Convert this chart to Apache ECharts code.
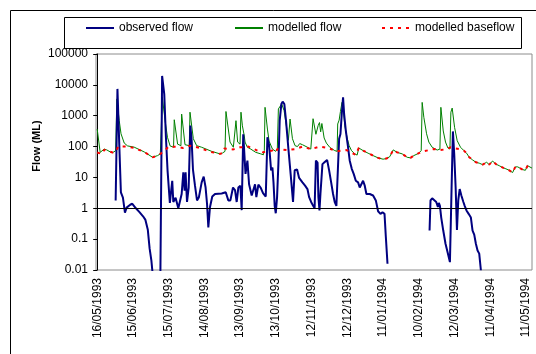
<!DOCTYPE html>
<html>
<head>
<meta charset="utf-8">
<script src="https://cdn.jsdelivr.net/npm/echarts@6/dist/echarts.min.js"></script>
<style>
  html, body { margin: 0; padding: 0; background: #fff; }
  #chart { width: 536px; height: 354px; }
</style>
</head>
<body>
<div id="chart"></div>
<script>
// Days are counted from 16/05/1993 (day 0); flows in ML, log scale.
const tickDays = [0, 30, 60, 90, 120, 150, 180, 210, 240, 270, 300, 330, 360];
const tickLabels = ['16/05/1993', '15/06/1993', '15/07/1993', '14/08/1993', '13/09/1993',
  '13/10/1993', '12/11/1993', '12/12/1993', '11/01/1994', '10/02/1994', '12/03/1994',
  '11/04/1994', '11/05/1994'];
const flowTickLabels = ['0.01', '0.1', '1', '10', '100', '1000', '10000', '100000'];
const seriesNames = ['observed flow', 'modelled flow', 'modelled baseflow'];

// Gauged flow; null marks days with no flow recorded.
const observedFlow = [
  [15.5, 1.8], [17, 7400], [18.8, 57], [19.9, 3.3], [21.6, 2.2], [23.3, 0.72], [24.7, 1.05],
  [25.5, 0.95], [27.7, 1.3], [29.5, 1.4], [32.5, 1.0], [35.5, 0.75], [38.5, 0.55], [40.5, 0.42],
  [42.5, 0.2], [44, 0.05], [45.5, 0.02], [46.8, 0.006], [47.5, null],
  [53, 0.004], [54.5, 19500], [56.3, 5000], [57.7, 200], [59.1, 16], [61, 1.5], [63, 7.8],
  [63.9, 1.6], [65.8, 2.2], [68.1, 1.0], [69.5, 0.96], [70.9, 2.9], [72.3, 14.6], [73.4, 3.7],
  [74.2, 14.6], [75.4, 1.6], [76.8, 4.7], [78.2, 480], [79.3, 155], [80.4, 18], [82.1, 5.4],
  [83.8, 1.8], [85.4, 2.3], [87.7, 6.9], [89.4, 10.6], [91.0, 4.7], [92.2, 1.4], [93.3, 0.24],
  [94.7, 1.1], [96.6, 2.4], [98.9, 2.9], [104.5, 3.0], [107.9, 3.3], [109.0, 3.7], [110.1, 1.8],
  [111.8, 1.8], [114.0, 4.7], [115.7, 3.9], [117.1, 1.6], [118.5, 4.7], [120.2, 5.4],
  [121.3, 0.87], [122.6, 250], [124.5, 13], [126.1, 35], [127.5, 6.0], [129.7, 2.6],
  [131.1, 2.3], [132.5, 6.0], [133.6, 2.3], [135.3, 5.8], [137.3, 4.6], [139.2, 3.1],
  [141.5, 2.4], [142.9, 200], [144.3, 110], [146.0, 17], [147.1, 21], [148.0, 6.9], [149.0, 1.2],
  [149.9, 0.69], [151.0, 2.3], [152.1, 27], [153.2, 690], [154.6, 2400], [155.7, 2860],
  [157.1, 2400], [158.5, 690], [160.5, 85], [162.4, 12.8], [164.4, 1.6], [165.8, 17],
  [167.8, 18], [169.5, 9.6], [172.3, 6.9], [174.5, 5.4], [176.5, 4.2], [177.9, 2.3],
  [179.6, 1.6], [181.3, 1.2], [182.5, 1.0], [183.6, 35], [185.0, 30], [185.7, 2.3],
  [186.6, 0.85], [187.4, 2.9], [189.1, 27], [190.8, 31], [191.9, 27], [193.0, 37], [194.7, 17],
  [196.4, 6.9], [198.0, 2.9], [199.4, 1.6], [200.8, 1.2], [202.2, 1.1], [203.1, 180],
  [204.2, 255], [205.3, 1130], [206.4, 3950], [207.3, 1130], [208.7, 330], [210.6, 95],
  [212.0, 35], [213.7, 19], [215.4, 12.8], [217.1, 7.8], [219.0, 6.9], [220.4, 4.7],
  [221.8, 5.4], [223.2, 7.8], [224.6, 5.4], [226.0, 2.9], [228.8, 2.9], [231.6, 2.6],
  [233.9, 1.8], [235.8, 0.8], [237.8, 0.66], [239.5, 0.74], [241.2, 0.66], [242.3, 0.12],
  [243.7, 0.016], [244.5, null],
  [279.0, 0.19], [279.8, 1.8], [281.2, 2.1], [282.6, 2.0], [284.6, 1.6], [286.0, 1.1],
  [286.8, 1.5], [287.7, 1.2], [288.8, 0.5], [290.5, 0.19], [292.4, 0.071], [294.4, 0.034],
  [296.1, 0.018], [297.5, 4.7], [298.6, 310], [299.7, 58], [300.9, 4.7], [302.0, 0.2],
  [303.1, 1.8], [304.3, 4.2], [305.7, 2.6], [307.4, 1.6], [308.5, 1.2], [310.0, 0.85],
  [311.8, 0.66], [313.7, 0.5], [315.1, 0.19], [316.5, 0.14], [317.9, 0.071], [319.3, 0.043],
  [320.7, 0.034], [322.1, 0.0098]
];

// Simulated total flow.
const modelledFlow = [
  [0, 370], [2.5, 65], [4, 58], [5.9, 83], [8, 78], [11, 67], [13, 64], [15.5, 73],
  [16.5, 3500], [18.5, 690], [20, 260], [22.7, 130], [25.5, 105], [31, 96], [39.5, 67],
  [46.5, 45], [50.7, 51], [53, 58], [54.7, 3950], [57, 690], [59, 200], [61.2, 105],
  [64.1, 95], [64.7, 740], [67.5, 120], [70.3, 107], [70.9, 1130], [73.7, 115], [77.3, 107],
  [77.9, 1300], [80.7, 180], [83.5, 107], [87.7, 95], [96.1, 70], [103.1, 58], [105.0, 61],
  [107.3, 70], [108.1, 1370], [111.5, 140], [114.3, 95], [115.7, 100], [116.5, 690],
  [117.9, 140], [119.9, 120], [120.7, 1300], [121.9, 470], [123.5, 220], [124.1, 140],
  [126.1, 95], [128.9, 83], [133.1, 65], [137.3, 58], [139.5, 54], [140.3, 74], [140.9, 1870],
  [142.9, 370], [144.3, 150], [147.1, 83], [149.9, 70], [151.2, 83], [152.1, 1660],
  [153.2, 1870], [154.9, 2400], [156.9, 1460], [158.8, 470], [160.5, 160], [161.9, 780],
  [163.9, 180], [166.1, 107], [168.1, 100], [170.0, 125], [172.3, 115], [176.5, 95],
  [179.3, 83], [180.1, 95], [181.2, 800], [182.2, 700], [183.6, 250], [185.5, 480],
  [186.6, 600], [187.6, 300], [188.6, 560], [190.5, 190], [192.4, 130], [195.2, 95],
  [199.4, 74], [201.4, 70], [201.9, 540], [203.1, 720], [204.2, 1370], [205.5, 2700],
  [206.4, 1900], [207.9, 470], [209.8, 190], [211.5, 107], [213.5, 74], [216.2, 58],
  [218.2, 53], [219.6, 90], [223.2, 74], [227.4, 61], [231.6, 51], [235.8, 43], [240, 39],
  [242.8, 41], [245.6, 47], [248.5, 78], [251.8, 65], [256, 58], [260.2, 45], [263, 43],
  [265.8, 51], [270, 61], [272, 74], [272.8, 2700], [274.2, 890], [276.5, 260], [278.4, 140],
  [281.2, 95], [285.4, 77], [287.7, 83], [288.5, 1870], [290.5, 320], [292.4, 140],
  [294.4, 90], [296.1, 83], [296.9, 1300], [298, 1770], [300, 420], [302.2, 155], [305, 95],
  [307.8, 74], [310.1, 61], [312.3, 45], [315.1, 37], [317.9, 31], [320.7, 29], [323.5, 26],
  [324.9, 24], [326.9, 31], [329.1, 26], [331.9, 34], [334.7, 27], [337.5, 24], [340.3, 21],
  [343.1, 19], [345.9, 17], [348.7, 14.4], [351, 22], [353, 22], [354.9, 20], [357.1, 18],
  [359.4, 17], [361.3, 24], [362.7, 22], [365, 20]
];

// Simulated baseflow component.
const modelledBaseflow = [
  [0, 64], [4, 58], [6, 79], [13, 64], [16, 70], [17.5, 100], [25, 100], [31, 90], [39.5, 67],
  [46.5, 45], [50.7, 51], [53, 58], [56, 70], [60, 100], [66, 98], [72, 90], [78, 107],
  [86.6, 90], [93.6, 70], [100.3, 61], [103.1, 58], [105, 61], [106.7, 87], [114.3, 81],
  [120, 95], [123.5, 95], [127, 100], [134.5, 74], [138.7, 65], [140.3, 74], [147.1, 74],
  [149.9, 65], [151.2, 83], [159.6, 77], [166.1, 83], [172.3, 100], [179.3, 83], [181.5, 87],
  [187, 100], [193.8, 90], [200.8, 70], [209.2, 77], [217.1, 54], [219.6, 90], [223.2, 74],
  [227.4, 61], [231.6, 51], [235.8, 43], [240, 39], [242.8, 41], [245.6, 47], [248.5, 78],
  [251.8, 65], [256, 58], [260.2, 45], [263, 43], [265.8, 51], [270, 61], [273.6, 70],
  [282.6, 83], [288.2, 77], [293.8, 83], [296.6, 95], [303.6, 83], [307.8, 74], [310.1, 61],
  [312.3, 45], [315.1, 37], [317.9, 31], [320.7, 29], [323.5, 26], [324.9, 24], [326.9, 31],
  [329.1, 26], [331.9, 34], [334.7, 27], [337.5, 24], [340.3, 21], [343.1, 19], [345.9, 17],
  [348.7, 14.4], [351, 22], [353, 22], [354.9, 20], [357.1, 18], [359.4, 17], [361.3, 24],
  [362.7, 22], [365, 20]
];

const FONT = '"Liberation Sans", Arial, sans-serif';
const chart = echarts.init(document.getElementById('chart'), null, { renderer: 'canvas' });

// Legend entries show only the line sample, no marker.
const legendBase = {
  top: 22, itemWidth: 28, itemHeight: 14, padding: 0, selectedMode: false,
  itemStyle: { opacity: 0, borderWidth: 0 },
  textStyle: { fontSize: 12, color: '#000', fontFamily: FONT }
};

chart.setOption({
  animation: false,
  backgroundColor: '#fff',
  textStyle: { fontFamily: FONT },
  graphic: [
    { type: 'rect', silent: true, z: -10,
      shape: { x: 10.5, y: 10.5, width: 620, height: 420 },
      style: { fill: '#fff', stroke: '#000', lineWidth: 1 } },
    { type: 'rect', silent: true, z: -5,
      shape: { x: 64.5, y: 17.5, width: 457, height: 31 },
      style: { fill: '#fff', stroke: '#000', lineWidth: 1 } },
    { type: 'text', silent: true, x: 37, y: 146, rotation: Math.PI / 2,
      style: { text: 'Flow (ML)', font: 'bold 11px ' + FONT, fill: '#000',
               align: 'center', verticalAlign: 'middle' } }
  ],
  legend: [
    Object.assign({}, legendBase, { left: 85, data: [seriesNames[0]] }),
    Object.assign({}, legendBase, { left: 234, data: [seriesNames[1]] }),
    Object.assign({}, legendBase, { left: 381, data: [seriesNames[2]] })
  ],
  grid: {
    left: 96, top: 54, width: 436, height: 216,
    show: true, borderColor: '#8c8c8c', borderWidth: 1, backgroundColor: 'transparent'
  },
  xAxis: {
    type: 'value', min: -1, max: 365,
    axisLine: { show: false },
    axisTick: { show: false },
    splitLine: { show: false },
    axisLabel: {
      customValues: tickDays,
      rotate: 90, margin: 8, fontSize: 12, color: '#000', fontFamily: FONT,
      formatter: v => {
        const i = tickDays.indexOf(Math.round(v));
        return i >= 0 ? tickLabels[i] : '';
      }
    }
  },
  yAxis: {
    type: 'log', logBase: 10, min: 0.01, max: 100000,
    axisLine: { show: true, lineStyle: { color: '#000', width: 1 } },
    axisTick: { show: true, length: 4, lineStyle: { color: '#000' } },
    splitLine: { show: false },
    minorTick: { show: false },
    axisLabel: {
      margin: 8, fontSize: 12, color: '#000', fontFamily: FONT,
      formatter: v => flowTickLabels[Math.round(Math.log10(v)) + 2] || ''
    }
  },
  series: [
    {
      name: seriesNames[0], type: 'line', data: observedFlow,
      symbol: 'none', connectNulls: false, clip: true, z: 3,
      lineStyle: { color: '#000080', width: 2 },
      itemStyle: { color: '#000080' },
      markLine: {
        silent: true, symbol: 'none', label: { show: false },
        lineStyle: { color: '#000', width: 1, type: 'solid' },
        data: [{ yAxis: 1 }]
      }
    },
    {
      name: seriesNames[1], type: 'line', data: modelledFlow,
      symbol: 'none', clip: true, z: 2,
      lineStyle: { color: '#008000', width: 1 },
      itemStyle: { color: '#008000' }
    },
    {
      name: seriesNames[2], type: 'line', data: modelledBaseflow,
      symbol: 'none', clip: true, z: 4,
      lineStyle: { color: '#ff0000', width: 2, type: [3, 5] },
      itemStyle: { color: '#ff0000' }
    }
  ]
});
</script>
</body>
</html>
